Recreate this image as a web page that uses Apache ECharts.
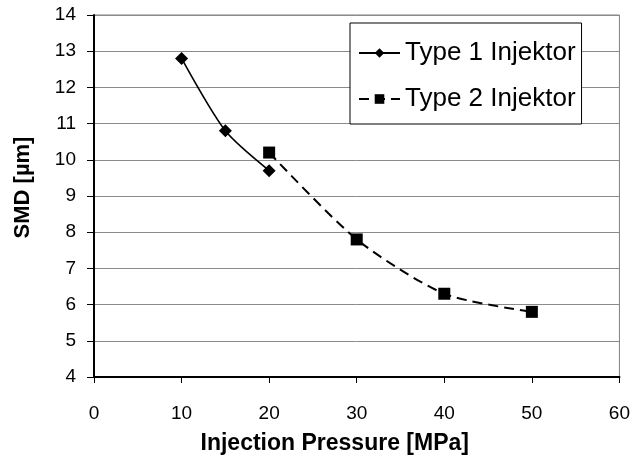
<!DOCTYPE html>
<html>
<head>
<meta charset="utf-8">
<script src="https://cdn.jsdelivr.net/npm/echarts@6/dist/echarts.min.js"></script>
<style>html,body{margin:0;padding:0;background:#fff;}#c{width:633px;height:460px;}</style>
</head>
<body>
<div id="c"></div>
<script>
const pressure1 = [10, 15, 20];
const smd1 = [12.8, 10.8, 9.7];
const pressure2 = [20, 30, 40, 50];
const smd2 = [10.2, 7.8, 6.3, 5.8];
const seriesNames = ['Type 1 Injektor', 'Type 2 Injektor'];
const xTitle = 'Injection Pressure [MPa]';
const yTitle = 'SMD [µm]';

const FONT = '"Liberation Sans", Arial, sans-serif';
const chart = echarts.init(document.getElementById('c'), null, {renderer: 'canvas'});
chart.setOption({
  animation: false,
  backgroundColor: '#fff',
  grid: {left: 94, top: 15, right: 12, bottom: 80, show: true, borderColor: '#808080', borderWidth: 1},
  legend: {
    orient: 'vertical', left: 350, top: 23,
    backgroundColor: '#fff', borderColor: '#000', borderWidth: 1,
    padding: [17, 6, 12, 8], itemGap: 20, itemWidth: 41, itemHeight: 12,
    textStyle: {fontFamily: FONT, fontSize: 26, color: '#000'},
    data: seriesNames
  },
  xAxis: {
    type: 'value', min: 0, max: 60, interval: 10,
    name: xTitle, nameLocation: 'middle', nameGap: 55,
    nameTextStyle: {fontFamily: FONT, fontSize: 23, fontWeight: 'bold', color: '#000', padding: [0, 44, 0, 0]},
    axisLine: {show: true, lineStyle: {color: '#000', width: 2}},
    axisTick: {show: true, length: 6, lineStyle: {color: '#000', width: 1}},
    axisLabel: {fontFamily: FONT, fontSize: 19, color: '#000', margin: 27},
    splitLine: {show: false}
  },
  yAxis: {
    type: 'value', min: 4, max: 14, interval: 1,
    name: yTitle, nameLocation: 'middle', nameGap: 60,
    nameTextStyle: {fontFamily: FONT, fontSize: 22, fontWeight: 'bold', color: '#000', padding: [0, 0, 0, 17]},
    axisLine: {show: true, lineStyle: {color: '#000', width: 2}},
    axisTick: {show: true, length: 7, lineStyle: {color: '#000', width: 1}},
    axisLabel: {fontFamily: FONT, fontSize: 19, color: '#000', margin: 18},
    splitLine: {show: true, lineStyle: {color: '#8a8a8a', width: 1}}
  },
  series: [
    {
      name: seriesNames[0], type: 'line', smooth: 0.25,
      data: pressure1.map((x, i) => [x, smd1[i]]),
      symbol: 'diamond', symbolSize: 13,
      itemStyle: {color: '#000'},
      lineStyle: {color: '#000', width: 1.6, type: 'solid'}
    },
    {
      name: seriesNames[1], type: 'line', smooth: 0.25,
      data: pressure2.map((x, i) => [x, smd2[i]]),
      symbol: 'rect', symbolSize: 12,
      itemStyle: {color: '#000'},
      lineStyle: {color: '#000', width: 2, type: [10, 6]}
    }
  ]
});
</script>
</body>
</html>
